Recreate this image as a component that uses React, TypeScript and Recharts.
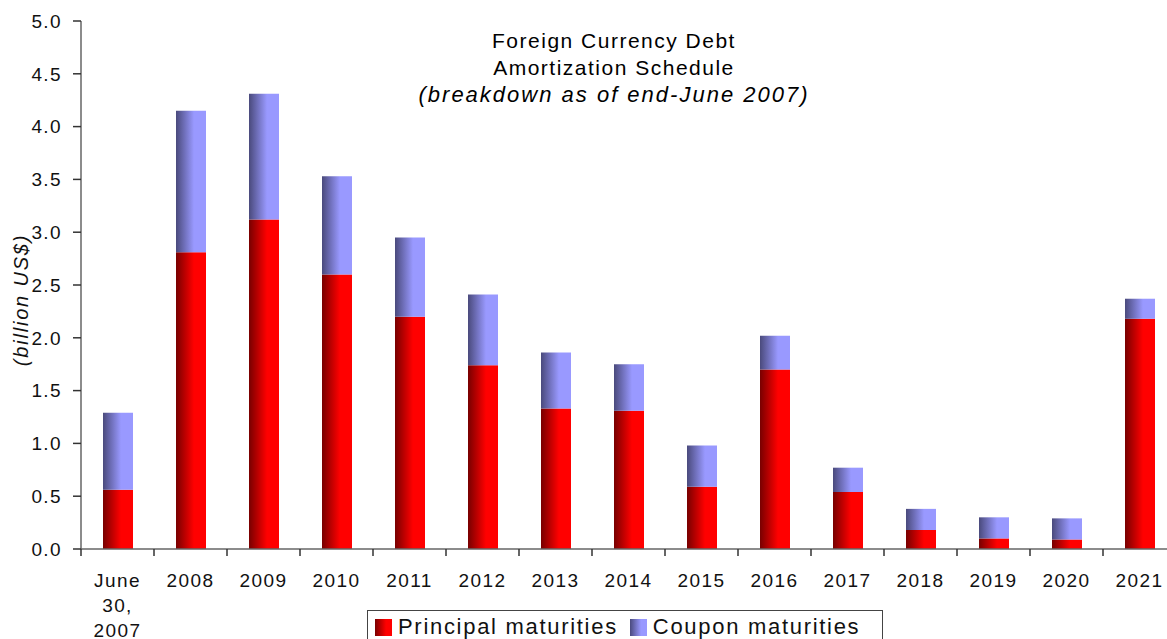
import { BarChart, Bar, XAxis, YAxis } from "recharts";

const categories = ["June 30, 2007", "2008", "2009", "2010", "2011", "2012", "2013", "2014", "2015", "2016", "2017", "2018", "2019", "2020", "2021"];
const principal = [0.56, 2.81, 3.12, 2.6, 2.2, 1.74, 1.33, 1.31, 0.59, 1.7, 0.54, 0.18, 0.1, 0.09, 2.18];
const coupon = [0.73, 1.34, 1.19, 0.93, 0.75, 0.67, 0.53, 0.44, 0.39, 0.32, 0.23, 0.2, 0.2, 0.2, 0.19];
const yTicks = [0, 0.5, 1, 1.5, 2, 2.5, 3, 3.5, 4, 4.5, 5];

const data = categories.map((name, i) => ({ name, principal: principal[i], coupon: coupon[i] }));

const font = "'Liberation Sans', Arial, Helvetica, sans-serif";

// category label plus a tick mark on the left edge of its band
function CatTick(props: any) {
  const { x, y, payload, width, visibleTicksCount } = props;
  const band = Number(width) / Number(visibleTicksCount) || 73;
  const lines = payload.value === "June 30, 2007" ? ["June", "30,", "2007"] : [payload.value];
  return (
    <g>
      <line x1={x - band / 2} x2={x - band / 2} y1={y} y2={y + 7} stroke="#333" strokeWidth={1.5} />
      <text x={x} y={y + 38} textAnchor="middle" fontSize={19} letterSpacing={1.4} fill="#111" fontFamily={font}>
        {lines.map((l, i) => (
          <tspan key={i} x={x} dy={i === 0 ? 0 : 25}>
            {l}
          </tspan>
        ))}
      </text>
    </g>
  );
}

function Swatch({ id }: { id: string }) {
  return (
    <svg width={17} height={17} style={{ display: "inline-block", verticalAlign: "-2px", marginRight: 6 }}>
      <defs>
        <linearGradient id={id + "L"} x1="0" y1="0" x2="1" y2="0">
          <stop offset="0%" stopColor={id === "red" ? "#7a0000" : "#4a4a7e"} />
          <stop offset="65%" stopColor={id === "red" ? "#ff0000" : "#9999ff"} />
        </linearGradient>
      </defs>
      <rect width={17} height={17} fill={`url(#${id}L)`} />
    </svg>
  );
}

export default function App() {
  return (
    <div style={{ position: "absolute", left: 0, top: 0, width: 1167, height: 639, overflow: "hidden", background: "#fff", fontFamily: font }}>
      <BarChart width={1190} height={639} data={data} margin={{ top: 21, right: 14, left: 0, bottom: 0 }}>
        <defs>
          <linearGradient id="redGrad" x1="0" y1="0" x2="1" y2="0">
            <stop offset="0%" stopColor="#780000" />
            <stop offset="60%" stopColor="#ff0000" />
            <stop offset="100%" stopColor="#ff0000" />
          </linearGradient>
          <linearGradient id="blueGrad" x1="0" y1="0" x2="1" y2="0">
            <stop offset="0%" stopColor="#4a4a7c" />
            <stop offset="60%" stopColor="#9999ff" />
            <stop offset="100%" stopColor="#9999ff" />
          </linearGradient>
        </defs>
        <XAxis
          dataKey="name"
          height={90}
          interval={0}
          tickSize={0}
          tickMargin={0}
          axisLine={{ stroke: "#666", strokeWidth: 1.5 }}
          tickLine={false}
          tick={<CatTick />}
        />
        <YAxis
          domain={[0, 5]}
          ticks={yTicks}
          width={81}
          tickSize={8}
          tickMargin={11}
          tickFormatter={(v: number) => v.toFixed(1)}
          tick={{ fontSize: 19, fill: "#111", fontFamily: font, letterSpacing: 1.4 }}
          axisLine={{ stroke: "#666", strokeWidth: 1.5 }}
          tickLine={{ stroke: "#333", strokeWidth: 1.5 }}
        />
        <Bar dataKey="principal" stackId="a" barSize={30} fill="url(#redGrad)" isAnimationActive={false} />
        <Bar dataKey="coupon" stackId="a" barSize={30} fill="url(#blueGrad)" isAnimationActive={false} />
      </BarChart>

      <div style={{ position: "absolute", left: 0, top: 0, width: 1228, textAlign: "center", color: "#000", paddingTop: 27 }}>
        <div style={{ fontSize: 21, letterSpacing: 1.5, lineHeight: "27px" }}>Foreign Currency Debt</div>
        <div style={{ fontSize: 21, letterSpacing: 1.5, lineHeight: "27px" }}>Amortization Schedule</div>
        <div style={{ fontSize: 22, letterSpacing: 2, lineHeight: "28px", fontStyle: "italic" }}>(breakdown as of end-June 2007)</div>
      </div>

      <div
        style={{
          position: "absolute",
          left: 21,
          top: 300,
          transform: "translate(-50%, -50%) rotate(-90deg)",
          fontSize: 20,
          letterSpacing: 1.8,
          fontStyle: "italic",
          color: "#111",
          whiteSpace: "nowrap",
        }}
      >
        (billion US$)
      </div>

      <div
        style={{
          position: "absolute",
          left: 367,
          top: 610,
          width: 516,
          height: 40,
          border: "1px solid #444",
          boxSizing: "border-box",
          paddingLeft: 7,
          paddingTop: 3,
          fontSize: 22,
          letterSpacing: 1.7,
          color: "#111",
          whiteSpace: "nowrap",
        }}
      >
        <span style={{ marginRight: 12 }}>
          <Swatch id="red" />
          Principal maturities
        </span>
        <span>
          <Swatch id="blue" />
          Coupon maturities
        </span>
      </div>
    </div>
  );
}
